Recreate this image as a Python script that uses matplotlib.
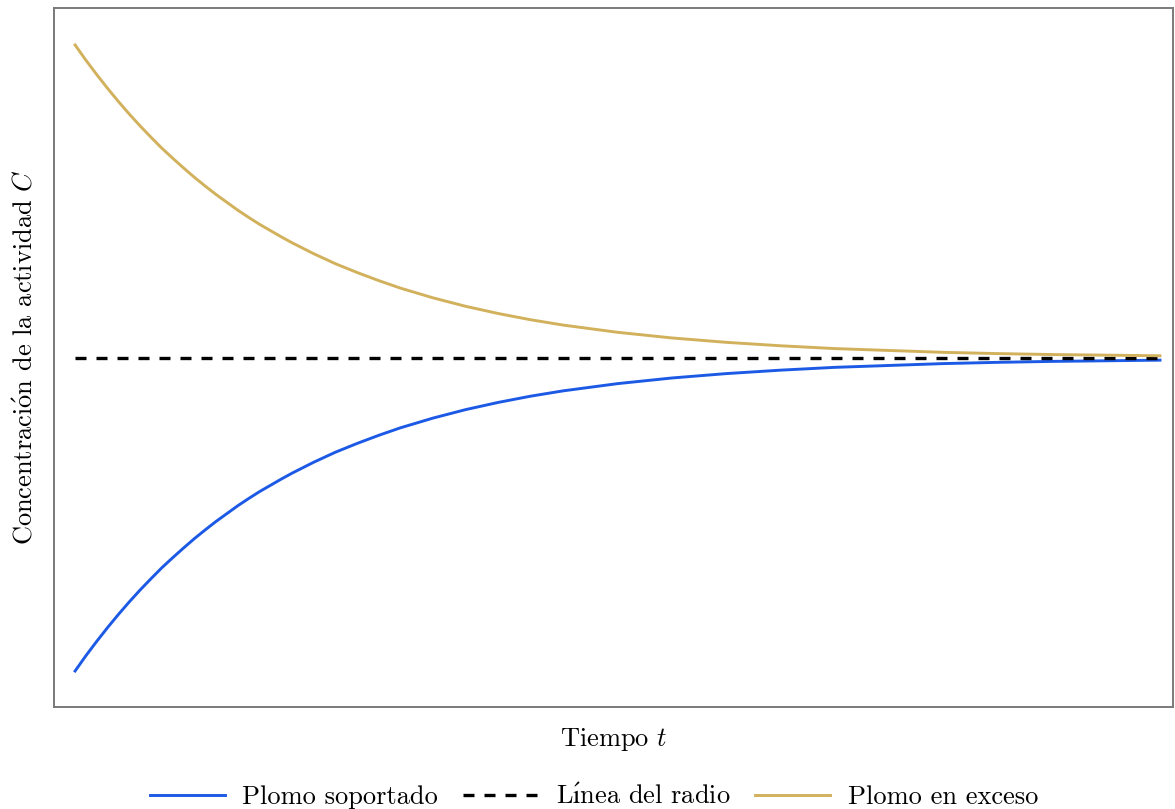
import matplotlib
matplotlib.use("Agg")
import matplotlib.pyplot as plt

plt.rcParams["mathtext.fontset"] = "cm"
plt.rcParams["font.family"] = ["cmr10", "DejaVu Serif"]

# Time axis (arbitrary units) and activity curves relative to the radium line
tiempo = [0.00, 0.01, 0.02, 0.03, 0.04, 0.05, 0.06, 0.07, 0.08, 0.09,
          0.10, 0.11, 0.12, 0.13, 0.14, 0.15, 0.16, 0.17, 0.18, 0.19,
          0.20, 0.22, 0.24, 0.26, 0.28, 0.30, 0.33, 0.36, 0.39, 0.42,
          0.45, 0.50, 0.55, 0.60, 0.65, 0.70, 0.75, 0.80, 0.85, 0.90,
          0.95, 1.00]

plomo_exceso = [1.000, 0.951, 0.905, 0.861, 0.819, 0.779, 0.741, 0.705, 0.670, 0.638,
                0.607, 0.577, 0.549, 0.522, 0.497, 0.472, 0.449, 0.427, 0.407, 0.387,
                0.368, 0.333, 0.301, 0.273, 0.247, 0.223, 0.192, 0.165, 0.142, 0.122,
                0.105, 0.082, 0.064, 0.050, 0.039, 0.030, 0.024, 0.018, 0.014, 0.011,
                0.009, 0.007]

plomo_soportado = [-1.000, -0.951, -0.905, -0.861, -0.819, -0.779, -0.741, -0.705, -0.670, -0.638,
                   -0.607, -0.577, -0.549, -0.522, -0.497, -0.472, -0.449, -0.427, -0.407, -0.387,
                   -0.368, -0.333, -0.301, -0.273, -0.247, -0.223, -0.192, -0.165, -0.142, -0.122,
                   -0.105, -0.082, -0.064, -0.050, -0.039, -0.030, -0.024, -0.018, -0.014, -0.011,
                   -0.009, -0.007]

radio_t = [0.0, 1.0]
radio_c = [0.0, 0.0]

labels = ["Plomo soportado", "L$\\mathrm{\\acute{\u0131}}$nea del radio", "Plomo en exceso"]

FS = 19

fig = plt.figure(figsize=(11.75, 8.09), dpi=100)
ax = fig.add_axes([0.046, 0.1261, 0.9523, 0.864])

ax.plot(tiempo, plomo_soportado, color="#1c5ae6", lw=2.1, label=labels[0])
ax.plot(radio_t, radio_c, color="black", lw=2.4, dashes=(3.3, 3.0), label=labels[1])
ax.plot(tiempo, plomo_exceso, color="#d2b15c", lw=2.1, label=labels[2])

ax.set_xlim(-0.0194, 1.012)
ax.set_ylim(-1.115, 1.118)
ax.set_xticks([])
ax.set_yticks([])
for s in ax.spines.values():
    s.set_color("#7a7a7a")
    s.set_linewidth(1.4)

ax.set_xlabel(r"Tiempo $t$", fontsize=FS, labelpad=14)
ax.set_ylabel(r"Concentraci$\mathrm{\acute{o}}$n de la actividad $C$", fontsize=FS, labelpad=12)

fig.legend(loc="center", bbox_to_anchor=(0.5055, 0.016), ncol=3, frameon=False,
           fontsize=FS, handlelength=2.85, handletextpad=0.65, columnspacing=0.95)

fig.savefig("out.png", dpi=100, facecolor="white")
